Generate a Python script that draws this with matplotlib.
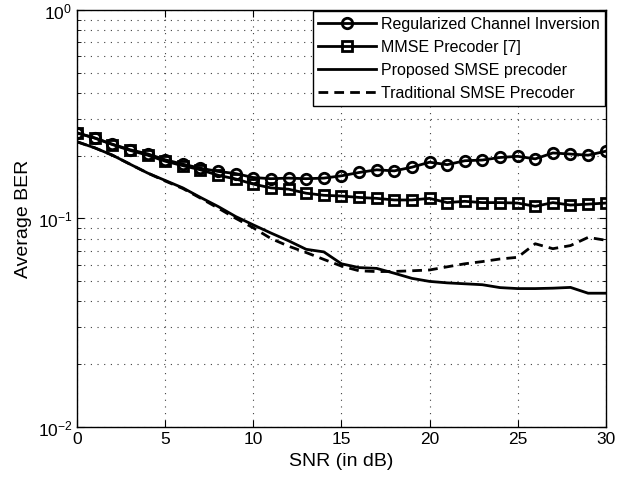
#!/usr/bin/env python3
"""Average BER vs SNR for four precoders (MATLAB-style semilog plot)."""
import matplotlib
matplotlib.use("Agg")
import matplotlib.pyplot as plt

snr = list(range(31))

rci = [0.257, 0.243, 0.227, 0.2135, 0.204, 0.191, 0.182, 0.174, 0.168, 0.164,
       0.157, 0.155, 0.156, 0.155, 0.156, 0.160, 0.166, 0.171, 0.169, 0.176,
       0.186, 0.181, 0.189, 0.1905, 0.196, 0.1985, 0.193, 0.206, 0.2035, 0.201,
       0.210]
mmse = [0.257, 0.243, 0.226, 0.212, 0.201, 0.188, 0.179, 0.171, 0.161, 0.1545,
        0.146, 0.140, 0.138, 0.132, 0.129, 0.128, 0.126, 0.1247, 0.1225, 0.1225,
        0.1247, 0.119, 0.1207, 0.119, 0.119, 0.1184, 0.1142, 0.119, 0.1158, 0.117,
        0.1184]
proposed = [0.233, 0.218, 0.201, 0.182, 0.165, 0.152, 0.140, 0.126, 0.114, 0.102,
            0.093, 0.085, 0.078, 0.071, 0.069, 0.0605, 0.058, 0.0575, 0.0545, 0.0515,
            0.0498, 0.049, 0.0485, 0.048, 0.0465, 0.046, 0.046, 0.0462, 0.0466, 0.0437,
            0.0437]
traditional = [0.233, 0.218, 0.201, 0.182, 0.165, 0.151, 0.139, 0.125, 0.112, 0.100,
               0.090, 0.080, 0.0735, 0.0685, 0.0635, 0.059, 0.056, 0.0555, 0.0556, 0.056,
               0.0565, 0.0585, 0.0605, 0.062, 0.0638, 0.065, 0.0755, 0.0715, 0.074, 0.081,
               0.0785]

labels = ["Regularized Channel Inversion", "MMSE Precoder [7]",
          "Proposed SMSE precoder", "Traditional SMSE Precoder"]


def main():
    plt.rcParams["font.family"] = ["Liberation Sans", "DejaVu Sans"]
    fig = plt.figure(figsize=(6.43, 4.81), dpi=100)
    ax = fig.add_axes([0.120, 0.111, 0.822, 0.866])

    ax.semilogy(snr, rci, "k-o", lw=2, ms=7.5, mew=2, mfc="none", label=labels[0])
    ax.semilogy(snr, mmse, "k-s", lw=2, ms=6.5, mew=2, mfc="none", label=labels[1])
    ax.semilogy(snr, proposed, "k-", lw=2, label=labels[2])
    ax.semilogy(snr, traditional, "k--", lw=2, dashes=(3.5, 2.2), label=labels[3])

    ax.set_xlim(0, 30)
    ax.set_ylim(1e-2, 1)
    ax.set_xticks(range(0, 31, 5))
    grid_style = dict(ls=(0, (1, 5)), color="0.25", lw=0.8)
    ax.grid(True, which="major", **grid_style)
    ax.grid(True, which="minor", axis="y", **grid_style)
    ax.tick_params(which="both", direction="in", top=True, right=True, labelsize=12.5)
    ax.tick_params(which="major", length=5)
    ax.tick_params(which="minor", length=3)
    for s in ax.spines.values():
        s.set_linewidth(1.0)

    ax.set_xlabel("SNR (in dB)", fontsize=14, labelpad=4)
    ax.set_ylabel("Average BER", fontsize=14, labelpad=4)

    leg = ax.legend(loc="upper right", fontsize=11.5, handlelength=3.6,
                    borderaxespad=0.05, labelspacing=0.5, fancybox=False,
                    framealpha=1, edgecolor="black", handletextpad=0.3,
                    borderpad=0.35)
    leg.get_frame().set_linewidth(1.0)

    fig.savefig("out.png", dpi=100)


if __name__ == "__main__":
    main()
